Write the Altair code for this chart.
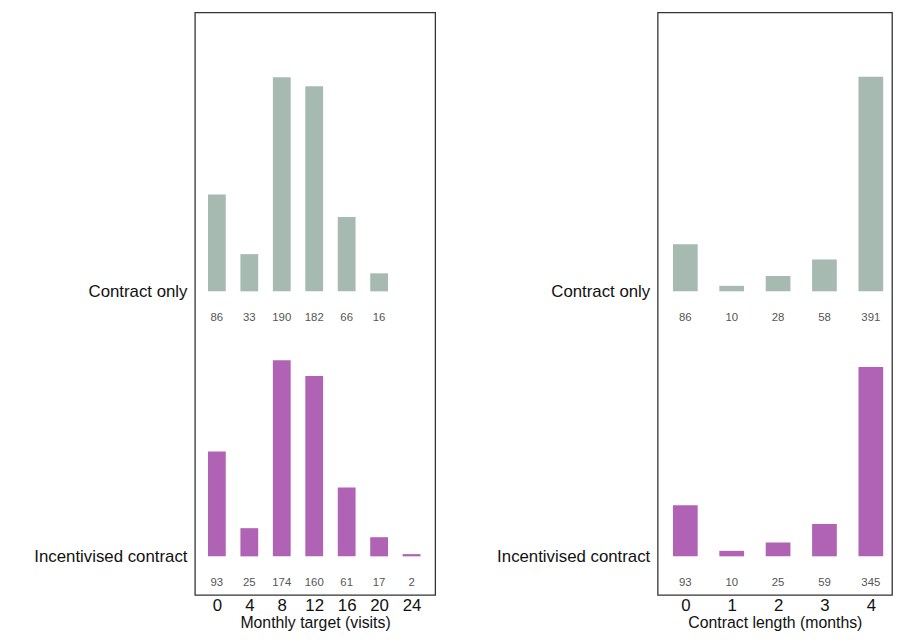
import pandas as pd
import altair as alt

# Monthly target panel
targets = [0, 4, 8, 12, 16, 20, 24]
target_contract = [86, 33, 190, 182, 66, 16, None]
target_incent = [93, 25, 174, 160, 61, 17, 2]

# Contract length panel
lengths = [0, 1, 2, 3, 4]
length_contract = [86, 10, 28, 58, 391]
length_incent = [93, 10, 25, 59, 345]

groups = ["Contract only", "Incentivised contract"]
colors = ["#a6bab2", "#b063b5"]


def build(xs, top, bottom, xdom, ymax, base_top, base_bot, bar_w, xtitle, tick_vals, w):
    rows = []
    for x, v in zip(xs, top):
        if v is not None:
            rows.append({"x": x, "n": v, "group": groups[0], "base": base_top})
    for x, v in zip(xs, bottom):
        if v is not None:
            rows.append({"x": x, "n": v, "group": groups[1], "base": base_bot})
    df = pd.DataFrame(rows)
    df["top"] = df["base"] + df["n"]
    lbl = "datum.value > %f ? 'Contract only' : 'Incentivised contract'" % ((base_top + base_bot) / 2)
    xenc = alt.X("x:Q", scale=alt.Scale(domain=xdom, nice=False, zero=False),
                 axis=alt.Axis(values=tick_vals, title=xtitle, grid=False, ticks=False,
                               domain=False, labelFontSize=17, titleFontSize=16,
                               labelColor="#111", titleColor="#111", labelPadding=3,
                               titlePadding=1, titleFontWeight="normal", format="d"))
    yscale = alt.Scale(domain=[0, ymax], nice=False, zero=True)
    base = alt.Chart(df)
    bars = base.mark_bar(size=bar_w).encode(
        x=xenc,
        y=alt.Y("base:Q", scale=yscale,
                axis=alt.Axis(values=[base_top, base_bot], labelExpr=lbl, title=None,
                              grid=False, ticks=False, domain=False, labelFontSize=17,
                              labelColor="#111", labelPadding=8)),
        y2="top:Q",
        color=alt.Color("group:N", scale=alt.Scale(domain=groups, range=colors), legend=None),
    )
    text = base.mark_text(fontSize=11.5, color="#555", dy=27, font="Liberation Sans").encode(
        x="x:Q", y=alt.Y("base:Q", scale=yscale), text="n:Q"
    )
    return alt.layer(bars, text).properties(
        width=w, height=589, view=alt.ViewBackground(stroke="#333", strokeWidth=1.3)
    )


left = build(targets, target_contract, target_incent, [-2.1, 26.3], 516.7, 269.3, 34.2,
             18, "Monthly target (visits)", targets, 243)
right = build(lengths, length_contract, length_incent, [-0.49, 4.35], 1061.3, 553.2, 70.3,
              25, "Contract length (months)", lengths, 237)

chart = alt.hconcat(left, right, spacing=60).properties(
    padding={"left": 25, "top": 0, "right": 0, "bottom": 0}
).configure(font="Liberation Sans")

chart.save("out.html", embed_options={"renderer": "svg", "actions": False})
